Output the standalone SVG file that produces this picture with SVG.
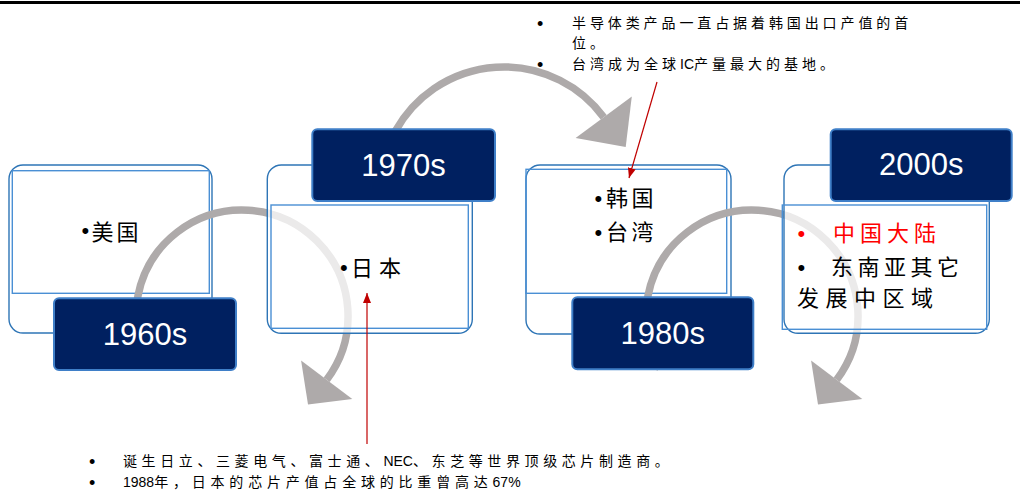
<svg xmlns="http://www.w3.org/2000/svg" width="1022" height="495" viewBox="0 0 1022 495">
<defs>
<style>
.outer{fill:#fff;stroke:#2E75B6;stroke-width:1.4}
.outerT{fill:#fff;fill-opacity:0.75;stroke:#2E75B6;stroke-width:1.4}
.inner{fill:none;stroke:#4A8FD4;stroke-width:1.4}
.lbl rect{fill:#002060;stroke:#3F7FC8;stroke-width:2}
.lbl text{fill:#fff;font-family:"Liberation Sans",Arial,sans-serif;font-size:31px;text-anchor:middle}
.cjk{font-family:"Noto Sans CJK SC",sans-serif;font-size:22px;fill:#000}
.bul{font-family:"Liberation Sans",sans-serif;font-size:22px;fill:#000}
.arc{fill:none;stroke:#AEAAAA;stroke-width:7.5}
.head{fill:#AEAAAA}
.red{stroke:#C00000;stroke-width:1.2;fill:none;marker-end:url(#rh)}
.note{font-family:"Liberation Sans","Noto Sans CJK SC",sans-serif;font-size:14px;fill:#000}
.nb{font-family:"Liberation Sans",sans-serif;font-size:18px;fill:#000}
</style>
<marker id="rh" viewBox="0 0 10 8" refX="10" refY="4" markerWidth="10" markerHeight="8" markerUnits="userSpaceOnUse" orient="auto"><path d="M0,0L10,4L0,8z" fill="#C00000"/></marker>
</defs>

<line x1="0" y1="2.5" x2="1020" y2="2.5" stroke="#000" stroke-width="3"/>

<g id="node-usa">
<rect class="outer" x="9" y="165" width="203" height="168" rx="14"/>
<rect class="inner" x="12.3" y="170.7" width="197" height="122.6"/>
<text class="bul" x="81.6" y="238">•</text>
<text class="cjk" x="91.5" y="240" letter-spacing="3">美国</text>
</g>

<g id="node-korea-taiwan">
<rect class="outer" x="526" y="165" width="205" height="169" rx="14"/>
<rect class="inner" x="526" y="169.3" width="200.7" height="124"/>
<text class="bul" x="594.6" y="206">•</text>
<text class="cjk" x="606" y="206" letter-spacing="3.5">韩国</text>
<text class="bul" x="594.6" y="240">•</text>
<text class="cjk" x="606" y="240" letter-spacing="3.5">台湾</text>
</g>

<g id="connectors">
<path class="arc" d="M150.2,369 A106,106 0 1 1 326.7,379.8"/>
<polygon class="head" points="352.3,399.1 301.1,360.5 308,404.6"/>
<path class="arc" d="M395.5,130.9 A124,124 0 0 1 603.7,117.2"/>
<polygon class="head" points="631.8,96.4 575.6,138 625.7,147"/>
<path class="arc" d="M660.2,369 A106,106 0 1 1 836.7,379.8"/>
<polygon class="head" points="862.3,399.1 811.1,360.5 818,404.6"/>
</g>

<g id="node-japan">
<rect class="outerT" x="267.3" y="165" width="205" height="168.3" rx="14"/>
<rect class="inner" x="271" y="205" width="197.3" height="123.3"/>
<text class="bul" x="340" y="275">•</text>
<text class="cjk" x="351" y="276" letter-spacing="6">日本</text>
</g>

<g id="node-china-sea">
<rect class="outerT" x="784" y="165" width="205.3" height="168.3" rx="14"/>
<rect class="inner" x="782.3" y="205" width="204.4" height="124.3"/>
<text class="bul" x="797.6" y="241" style="fill:#FF0000">•</text>
<text class="cjk" x="833" y="241" letter-spacing="5" style="fill:#FF0000">中国大陆</text>
<text class="bul" x="797.6" y="275">•</text>
<text class="cjk" x="831" y="275" letter-spacing="4.5">东南亚其它</text>
<text class="cjk" x="797" y="306" letter-spacing="6.5">发展中区域</text>
</g>

<g id="label-1960s" class="lbl">
<rect x="54" y="298.3" width="182" height="71.7" rx="5"/>
<text x="145" y="345">1960s</text>
</g>
<g id="label-1970s" class="lbl">
<rect x="312.3" y="129.3" width="182.7" height="71.7" rx="5"/>
<text x="403.6" y="176">1970s</text>
</g>
<g id="label-1980s" class="lbl">
<rect x="572.3" y="297.3" width="181" height="72" rx="5"/>
<text x="662.8" y="344">1980s</text>
</g>
<g id="label-2000s" class="lbl">
<rect x="830.7" y="129.3" width="181" height="71.7" rx="5"/>
<text x="921.2" y="175">2000s</text>
</g>

<g id="callouts">
<path class="red" d="M367,444 L367,293"/>
<path class="red" d="M657,82 L629,178"/>
</g>

<g id="note-top">
<text class="nb" x="536.9" y="29.5">•</text>
<text class="note" x="572" y="28" letter-spacing="3.9">半导体类产品一直占据着韩国出口产值的首</text>
<text class="note" x="572" y="48" letter-spacing="3.9">位。</text>
<text class="nb" x="536.9" y="70.5">•</text>
<text class="note" x="572" y="69"><tspan letter-spacing="4">台湾成为全球</tspan>IC<tspan letter-spacing="4">产量最大的基地。</tspan></text>
</g>

<g id="note-bottom">
<text class="nb" x="89" y="468">•</text>
<text class="note" x="123" y="466"><tspan letter-spacing="4.6">诞生日立、三菱电气、富士通、</tspan>NEC<tspan letter-spacing="4.6">、东芝等世界顶级芯片制造商。</tspan></text>
<text class="nb" x="89" y="489">•</text>
<text class="note" x="123" y="487">1988<tspan letter-spacing="4.8">年，日本的芯片产值占全球的比重曾高达</tspan>67%</text>
</g>
</svg>
